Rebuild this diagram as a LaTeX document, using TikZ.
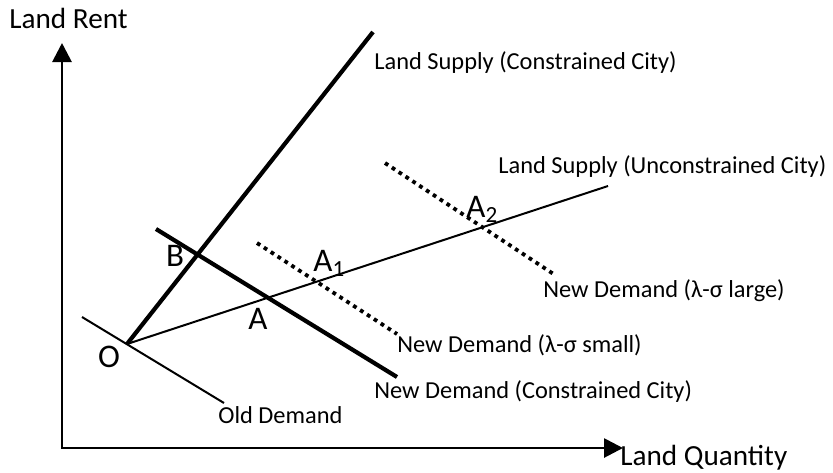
\documentclass[tikz,border=0pt]{standalone}
\usepackage{fontspec}
\setmainfont{Carlito}
\usetikzlibrary{arrows.meta, positioning}
\tikzset{
  axis/.style={line width=1.4pt, {Triangle[length=9.5pt, width=9.5pt]}-{Triangle[length=9.5pt, width=9.5pt]}},
  thickline/.style={line width=2.1pt},
  thinline/.style={line width=1pt},
  dotline/.style={line width=1.9pt, dash pattern=on 1.9pt off 2.2pt},
  curvelabel/.style={anchor=base west, inner sep=0pt, font=\fontsize{12.2}{14}\selectfont},
  axislabel/.style={anchor=base west, inner sep=0pt, font=\fontsize{14.6}{17}\selectfont},
  pointlabel/.style={inner sep=0pt, font=\fontsize{16.5}{19}\selectfont},
}

\begin{document}
\begin{tikzpicture}[x=0.5pt, y=-0.5pt]
\useasboundingbox (0,0) rectangle (833,472);

% Axes
\coordinate (origin) at (62,448);
\coordinate (rentend) at (62,43);
\coordinate (qtyend) at (623,448);
\draw[axis] (rentend) -- (origin) -- (qtyend);
\node[axislabel] (rent) at (9,28) {Land Rent};
\node[axislabel] (qty) at (620,465) {Land Quantity};

% Curve end points
\coordinate (O) at (127,344);
\coordinate (supcon) at (373,32);
\coordinate (supunc) at (608,186);
\coordinate (oldtop) at (82,317);
\coordinate (oldbot) at (224,403);
\coordinate (newtop) at (156,229);
\coordinate (newbot) at (397,377);
\coordinate (smalltop) at (257,243);
\coordinate (smallbot) at (397,334);
\coordinate (largetop) at (385,163);
\coordinate (largebot) at (555,275);

% Supply and demand curves
\draw[thickline] (O) -- (supcon);
\draw[thinline] (O) -- (supunc);
\draw[thinline] (oldtop) -- (oldbot);
\draw[thickline] (newtop) -- (newbot);
\draw[dotline] (smalltop) -- (smallbot);
\draw[dotline] (largetop) -- (largebot);

% Curve labels
\node[curvelabel] (lsupcon) at (374,69) {Land Supply (Constrained City)};
\node[curvelabel] (lsupunc) at (498,173) {Land Supply (Unconstrained City)};
\node[curvelabel] (llarge) at (543,297) {New Demand (λ-σ large)};
\node[curvelabel] (lsmall) at (397,352) {New Demand (λ-σ small)};
\node[curvelabel] (lnew) at (374,398) {New Demand (Constrained City)};
\node[curvelabel] (lold) at (218,423) {Old Demand};

% Equilibrium points
\node[pointlabel] (pO) at (109,357) {O};
\node[pointlabel] (pB) at (175,256) {B};
\node[pointlabel] (pA) at (258,319) {A};
\node[pointlabel, anchor=base west] (pA1) at (313,271) {A\textsubscript{1}};
\node[pointlabel, anchor=base west] (pA2) at (466,217) {A\textsubscript{2}};

\end{tikzpicture}
\end{document}
